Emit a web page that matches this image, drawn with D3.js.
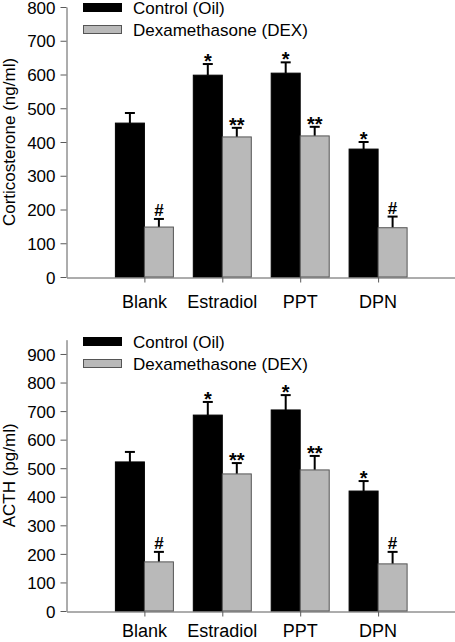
<!DOCTYPE html>
<html><head><meta charset="utf-8">
<script src="https://cdn.jsdelivr.net/npm/d3@7"></script>
<style>body{margin:0;background:#fff}svg{display:block}text{font-family:"Liberation Sans",Arial,sans-serif;fill:#000}</style>
</head><body><svg id="c" width="455" height="642"></svg>
<script>
const categories = ["Blank","Estradiol","PPT","DPN"];
const series = ["Control (Oil)","Dexamethasone (DEX)"];
// Corticosterone (ng/ml)
const cortControl = [456, 598, 604, 379];
const cortControlErr = [30, 33, 32, 21];
const cortDex = [148, 415, 418, 146];
const cortDexErr = [24, 27, 27, 33];
const cortControlSig = ["", "*", "*", "*"];
const cortDexSig = ["#", "**", "**", "#"];
const cortTicks = [0,100,200,300,400,500,600,700,800];
// ACTH (pg/ml)
const acthControl = [522, 686, 704, 420];
const acthControlErr = [35, 46, 52, 35];
const acthDex = [172, 480, 494, 165];
const acthDexErr = [35, 38, 49, 42];
const acthControlSig = ["", "*", "*", "*"];
const acthDexSig = ["#", "**", "**", "#"];
const acthTicks = [0,100,200,300,400,500,600,700,800,900];

const svg = d3.select("#c");
const colors = ["#000000", "#b9b9b9"];
const axisColor = "#5a5a5a";

function panel(o) {
  const g = svg.append("g");
  const x = d3.scaleLinear().domain([0, 5]).range([66.5, 456]);
  const xi = d3.scaleBand().domain(series).range([-29, 29]);
  const y = d3.scaleLinear().domain([0, o.ymax]).range([o.y0, o.y1]);
  const vals = [o.ctrl, o.dex], errs = [o.ctrlErr, o.dexErr], sigs = [o.ctrlSig, o.dexSig];

  series.forEach((s, si) => {
    const data = categories.map((c, i) => ({i, v: vals[si][i], e: errs[si][i], sig: sigs[si][i]}));
    const cx = d => x(d.i + 1) + xi(s);
    g.selectAll(null).data(data).enter().append("line")
      .attr("x1", d => cx(d) + xi.bandwidth()/2).attr("x2", d => cx(d) + xi.bandwidth()/2)
      .attr("y1", d => y(d.v)).attr("y2", d => y(d.v + d.e))
      .attr("stroke", "#000").attr("stroke-width", 2);
    g.selectAll(null).data(data).enter().append("line")
      .attr("x1", d => cx(d) + xi.bandwidth()/2 - 5).attr("x2", d => cx(d) + xi.bandwidth()/2 + 5)
      .attr("y1", d => y(d.v + d.e)).attr("y2", d => y(d.v + d.e))
      .attr("stroke", "#000").attr("stroke-width", 2);
    g.selectAll(null).data(data).enter().append("rect")
      .attr("x", cx).attr("width", xi.bandwidth())
      .attr("y", d => y(d.v)).attr("height", d => y(0) - y(d.v))
      .attr("fill", colors[si]).attr("stroke", si ? "#555" : "#000").attr("stroke-width", 1);
    g.selectAll(null).data(data.filter(d => d.sig)).enter().append("text")
      .attr("x", d => cx(d) + xi.bandwidth()/2)
      .attr("y", d => y(d.v + d.e) + (d.sig[0] === "#" ? -3 : 4))
      .attr("text-anchor", "middle")
      .attr("font-size", d => d.sig[0] === "#" ? 17 : 20)
      .attr("font-weight", "bold")
      .text(d => d.sig);
  });

  const ya = g.append("g").attr("transform", "translate(66.5,0)")
    .call(d3.axisLeft(y).tickValues(o.ticks).tickSize(6).tickPadding(5).tickSizeOuter(0));
  ya.selectAll("text").attr("font-size", 17).attr("dy", "0.36em");
  ya.selectAll("line,path").attr("stroke", axisColor);
  const xa = g.append("g").attr("transform", `translate(0,${o.y0 + 0.5})`)
    .call(d3.axisBottom(x).tickValues([1,2,3,4]).tickSize(5).tickSizeOuter(0).tickFormat(""));
  xa.selectAll("line,path").attr("stroke", axisColor);
  g.selectAll(null).data(categories).enter().append("text")
    .attr("x", (c, i) => x(i + 1)).attr("y", o.labelY)
    .attr("text-anchor", "middle").attr("font-size", 18).text(c => c);
  g.append("text").attr("transform", `translate(${o.titleX},${(o.y0 + o.y1)/2}) rotate(-90)`)
    .attr("text-anchor", "middle").attr("font-size", 17).text(o.title);
  series.forEach((s, si) => {
    g.append("rect").attr("x", 83.5).attr("y", o.legY + si * 22 + 0.5).attr("width", 38).attr("height", 8)
      .attr("fill", colors[si]).attr("stroke", si ? "#555" : "#000");
    g.append("text").attr("x", 133).attr("y", o.legY + si * 22 + 10.5).attr("font-size", 17).text(s);
  });
}

panel({ctrl: cortControl, ctrlErr: cortControlErr, dex: cortDex, dexErr: cortDexErr,
  ctrlSig: cortControlSig, dexSig: cortDexSig, ticks: cortTicks, ymax: 800, y0: 277, y1: 7,
  labelY: 308, title: "Corticosterone (ng/ml)", titleX: 15, legY: 3});
panel({ctrl: acthControl, ctrlErr: acthControlErr, dex: acthDex, dexErr: acthDexErr,
  ctrlSig: acthControlSig, dexSig: acthDexSig, ticks: acthTicks, ymax: 950, y0: 611, y1: 339.7,
  labelY: 637, title: "ACTH (pg/ml)", titleX: 15, legY: 337});
</script></body></html>
